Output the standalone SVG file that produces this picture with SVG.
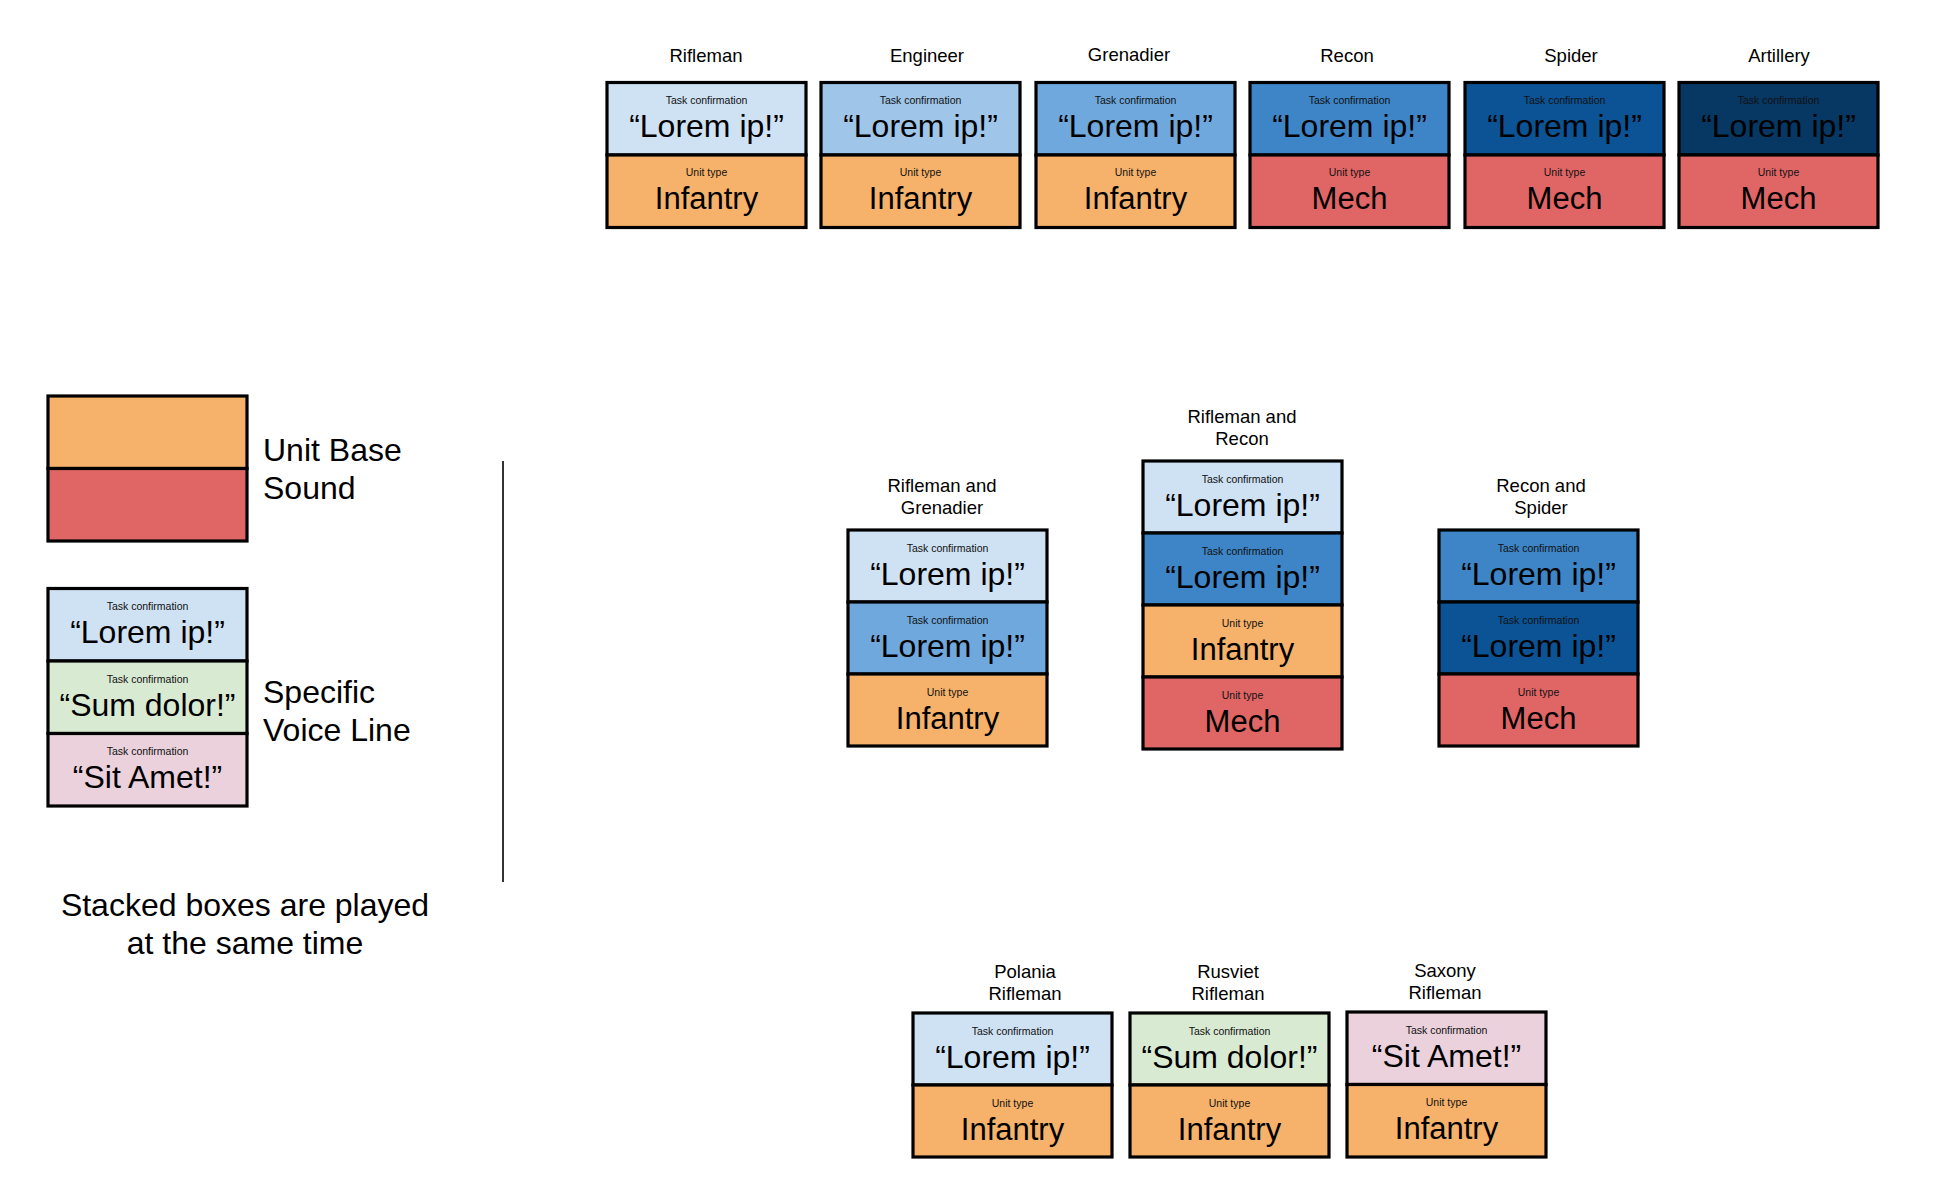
<svg xmlns="http://www.w3.org/2000/svg" width="1942" height="1196" viewBox="0 0 1942 1196">
<style>
text{font-family:"Liberation Sans",Arial,sans-serif;fill:#000;text-anchor:middle}
.c{stroke:#000;stroke-width:3.2}
.sm{font-size:10.5px;fill:#111}
.q{font-size:32px}
.u{font-size:31px}
.lb{font-size:18.5px}
.leg{font-size:32px}
.l1{fill:#cfe2f3}.l2{fill:#9fc5e8}.l3{fill:#6fa8dc}.l4{fill:#3d85c6}.l5{fill:#0b5394}.l6{fill:#073763}
.inf{fill:#f6b26b}.mech{fill:#e06666}.grn{fill:#d9ead3}.pnk{fill:#ead1dc}
</style>
<rect width="1942" height="1196" fill="#fff"/>

<!-- Top row -->
<g id="rifleman">
<text class="lb" x="706" y="62">Rifleman</text>
<rect class="c l1" x="607" y="82.5" width="199" height="72.5"/>
<text class="sm" x="706.5" y="104">Task confirmation</text>
<text class="q" x="706.5" y="137">“Lorem ip!”</text>
<rect class="c inf" x="607" y="155" width="199" height="72.5"/>
<text class="sm" x="706.5" y="176">Unit type</text>
<text class="u" x="706.5" y="209">Infantry</text>
</g>
<g id="engineer">
<text class="lb" x="927" y="62">Engineer</text>
<rect class="c l2" x="821" y="82.5" width="199" height="72.5"/>
<text class="sm" x="920.5" y="104">Task confirmation</text>
<text class="q" x="920.5" y="137">“Lorem ip!”</text>
<rect class="c inf" x="821" y="155" width="199" height="72.5"/>
<text class="sm" x="920.5" y="176">Unit type</text>
<text class="u" x="920.5" y="209">Infantry</text>
</g>
<g id="grenadier">
<text class="lb" x="1129" y="61">Grenadier</text>
<rect class="c l3" x="1036" y="82.5" width="199" height="72.5"/>
<text class="sm" x="1135.5" y="104">Task confirmation</text>
<text class="q" x="1135.5" y="137">“Lorem ip!”</text>
<rect class="c inf" x="1036" y="155" width="199" height="72.5"/>
<text class="sm" x="1135.5" y="176">Unit type</text>
<text class="u" x="1135.5" y="209">Infantry</text>
</g>
<g id="recon">
<text class="lb" x="1347" y="62">Recon</text>
<rect class="c l4" x="1250" y="82.5" width="199" height="72.5"/>
<text class="sm" x="1349.5" y="104">Task confirmation</text>
<text class="q" x="1349.5" y="137">“Lorem ip!”</text>
<rect class="c mech" x="1250" y="155" width="199" height="72.5"/>
<text class="sm" x="1349.5" y="176">Unit type</text>
<text class="u" x="1349.5" y="209">Mech</text>
</g>
<g id="spider">
<text class="lb" x="1571" y="62">Spider</text>
<rect class="c l5" x="1465" y="82.5" width="199" height="72.5"/>
<text class="sm" x="1564.5" y="104">Task confirmation</text>
<text class="q" x="1564.5" y="137">“Lorem ip!”</text>
<rect class="c mech" x="1465" y="155" width="199" height="72.5"/>
<text class="sm" x="1564.5" y="176">Unit type</text>
<text class="u" x="1564.5" y="209">Mech</text>
</g>
<g id="artillery">
<text class="lb" x="1779" y="62">Artillery</text>
<rect class="c l6" x="1679" y="82.5" width="199" height="72.5"/>
<text class="sm" x="1778.5" y="104">Task confirmation</text>
<text class="q" x="1778.5" y="137">“Lorem ip!”</text>
<rect class="c mech" x="1679" y="155" width="199" height="72.5"/>
<text class="sm" x="1778.5" y="176">Unit type</text>
<text class="u" x="1778.5" y="209">Mech</text>
</g>

<!-- Legend -->
<g id="legend-base">
<rect class="c inf" x="48" y="396" width="199" height="72.5"/>
<rect class="c mech" x="48" y="468.5" width="199" height="72.5"/>
<text class="leg" x="263" y="461" style="text-anchor:start">Unit Base</text>
<text class="leg" x="263" y="499" style="text-anchor:start">Sound</text>
</g>
<g id="legend-voice">
<rect class="c l1" x="48" y="588.5" width="199" height="72.5"/>
<text class="sm" x="147.5" y="610">Task confirmation</text>
<text class="q" x="147.5" y="643">“Lorem ip!”</text>
<rect class="c grn" x="48" y="661" width="199" height="72.5"/>
<text class="sm" x="147.5" y="682.5">Task confirmation</text>
<text class="q" x="147.5" y="715.5">“Sum dolor!”</text>
<rect class="c pnk" x="48" y="733.5" width="199" height="72.5"/>
<text class="sm" x="147.5" y="755">Task confirmation</text>
<text class="q" x="147.5" y="788">“Sit Amet!”</text>
<text class="leg" x="263" y="703" style="text-anchor:start">Specific</text>
<text class="leg" x="263" y="741" style="text-anchor:start">Voice Line</text>
</g>
<g id="legend-note">
<text class="leg" x="245" y="916">Stacked boxes are played</text>
<text class="leg" x="245" y="954">at the same time</text>
</g>

<g id="connectors">
<line x1="503" y1="461" x2="503" y2="882" stroke="#333" stroke-width="2"/>
</g>

<!-- Middle row -->
<g id="rifleman-grenadier">
<text class="lb" x="942" y="492">Rifleman and</text>
<text class="lb" x="942" y="514">Grenadier</text>
<rect class="c l1" x="848" y="530" width="199" height="72"/>
<text class="sm" x="947.5" y="551.5">Task confirmation</text>
<text class="q" x="947.5" y="584.5">“Lorem ip!”</text>
<rect class="c l3" x="848" y="602" width="199" height="72"/>
<text class="sm" x="947.5" y="623.5">Task confirmation</text>
<text class="q" x="947.5" y="656.5">“Lorem ip!”</text>
<rect class="c inf" x="848" y="674" width="199" height="72"/>
<text class="sm" x="947.5" y="695.5">Unit type</text>
<text class="u" x="947.5" y="728.5">Infantry</text>
</g>
<g id="rifleman-recon">
<text class="lb" x="1242" y="423">Rifleman and</text>
<text class="lb" x="1242" y="445">Recon</text>
<rect class="c l1" x="1143" y="461" width="199" height="72"/>
<text class="sm" x="1242.5" y="482.5">Task confirmation</text>
<text class="q" x="1242.5" y="515.5">“Lorem ip!”</text>
<rect class="c l4" x="1143" y="533" width="199" height="72"/>
<text class="sm" x="1242.5" y="554.5">Task confirmation</text>
<text class="q" x="1242.5" y="587.5">“Lorem ip!”</text>
<rect class="c inf" x="1143" y="605" width="199" height="72"/>
<text class="sm" x="1242.5" y="626.5">Unit type</text>
<text class="u" x="1242.5" y="659.5">Infantry</text>
<rect class="c mech" x="1143" y="677" width="199" height="72"/>
<text class="sm" x="1242.5" y="698.5">Unit type</text>
<text class="u" x="1242.5" y="731.5">Mech</text>
</g>
<g id="recon-spider">
<text class="lb" x="1541" y="492">Recon and</text>
<text class="lb" x="1541" y="514">Spider</text>
<rect class="c l4" x="1439" y="530" width="199" height="72"/>
<text class="sm" x="1538.5" y="551.5">Task confirmation</text>
<text class="q" x="1538.5" y="584.5">“Lorem ip!”</text>
<rect class="c l5" x="1439" y="602" width="199" height="72"/>
<text class="sm" x="1538.5" y="623.5">Task confirmation</text>
<text class="q" x="1538.5" y="656.5">“Lorem ip!”</text>
<rect class="c mech" x="1439" y="674" width="199" height="72"/>
<text class="sm" x="1538.5" y="695.5">Unit type</text>
<text class="u" x="1538.5" y="728.5">Mech</text>
</g>

<!-- Bottom row -->
<g id="polania-rifleman">
<text class="lb" x="1025" y="978">Polania</text>
<text class="lb" x="1025" y="1000">Rifleman</text>
<rect class="c l1" x="913" y="1013" width="199" height="72"/>
<text class="sm" x="1012.5" y="1034.5">Task confirmation</text>
<text class="q" x="1012.5" y="1067.5">“Lorem ip!”</text>
<rect class="c inf" x="913" y="1085" width="199" height="72"/>
<text class="sm" x="1012.5" y="1106.5">Unit type</text>
<text class="u" x="1012.5" y="1139.5">Infantry</text>
</g>
<g id="rusviet-rifleman">
<text class="lb" x="1228" y="978">Rusviet</text>
<text class="lb" x="1228" y="1000">Rifleman</text>
<rect class="c grn" x="1130" y="1013" width="199" height="72"/>
<text class="sm" x="1229.5" y="1034.5">Task confirmation</text>
<text class="q" x="1229.5" y="1067.5">“Sum dolor!”</text>
<rect class="c inf" x="1130" y="1085" width="199" height="72"/>
<text class="sm" x="1229.5" y="1106.5">Unit type</text>
<text class="u" x="1229.5" y="1139.5">Infantry</text>
</g>
<g id="saxony-rifleman">
<text class="lb" x="1445" y="977">Saxony</text>
<text class="lb" x="1445" y="999">Rifleman</text>
<rect class="c pnk" x="1347" y="1012" width="199" height="72.5"/>
<text class="sm" x="1446.5" y="1033.5">Task confirmation</text>
<text class="q" x="1446.5" y="1066.5">“Sit Amet!”</text>
<rect class="c inf" x="1347" y="1084.5" width="199" height="72.5"/>
<text class="sm" x="1446.5" y="1106">Unit type</text>
<text class="u" x="1446.5" y="1139">Infantry</text>
</g>
</svg>
